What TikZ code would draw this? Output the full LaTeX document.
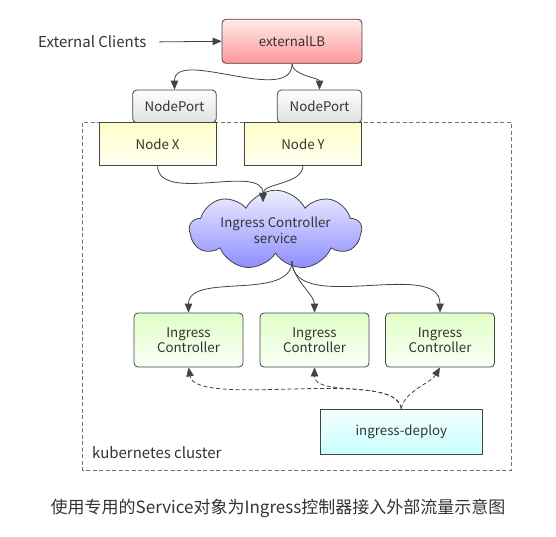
\documentclass[tikz,border=0pt]{standalone}
\usepackage{fontspec}
\setmainfont{Noto Sans CJK SC}
\usetikzlibrary{arrows.meta,shapes.symbols}
\definecolor{txt}{HTML}{333333}
\definecolor{edge}{HTML}{444444}
\tikzset{
  box/.style={draw=edge,line width=0.8pt,text=txt,inner sep=0pt,align=center,
    font=\fontsize{13.3}{15.5}\selectfont},
  rbox/.style={box,rounded corners=4pt},
  arr/.style={draw=edge,line width=0.8pt,-{Triangle[length=9pt,width=7.5pt]}},
  darr/.style={arr,dash pattern=on 4pt off 2.5pt},
  lbl/.style={text=txt,inner sep=0pt,font=\fontsize{15}{17}\selectfont,anchor=west},
}
\begin{document}
\begin{tikzpicture}[x=1pt,y=-1pt]
\useasboundingbox (0,0) rectangle (556,537);
% cluster
\draw[draw=gray!90!black,line width=0.8pt,dash pattern=on 4pt off 2.5pt] (82.5,122.7) rectangle (511.5,470);
\node[lbl] (k8s) at (92,453) {kubernetes cluster};
% top
\node[rbox,top color=red!8,bottom color={rgb,255:red,255;green,150;blue,150},minimum width=140pt,minimum height=44pt] (lb) at (292,41.3) {externalLB};
\node[lbl] (clients) at (38,42) {External Clients};
\node[rbox,top color=white,bottom color=gray!25,minimum width=83.5pt,minimum height=32.7pt] (np1) at (174.5,106.4) {NodePort};
\node[rbox,top color=white,bottom color=gray!25,minimum width=84.4pt,minimum height=32.7pt] (np2) at (319.5,106.4) {NodePort};
\node[box,top color={rgb,255:red,255;green,255;blue,200},bottom color={rgb,255:red,255;green,255;blue,242},minimum width=117pt,minimum height=42.3pt] (nx) at (157.6,143.9) {Node X};
\node[box,top color={rgb,255:red,255;green,255;blue,200},bottom color={rgb,255:red,255;green,255;blue,242},minimum width=117.4pt,minimum height=42.3pt] (ny) at (303,143.9) {Node Y};
% cloud
\node[cloud,draw=edge,line width=0.8pt,cloud puffs=9,cloud puff arc=125,aspect=3.1,
  minimum width=172pt,minimum height=52pt,inner sep=0pt,text=txt,align=center,
  font=\fontsize{13.3}{16}\selectfont,
  top color={rgb,255:red,238;green,238;blue,255},bottom color={rgb,255:red,140;green,140;blue,255}] (cloud) at (275.5,230) {Ingress Controller\\service};
\coordinate (cin) at (263,202);
\coordinate (cout) at (292,261);
% ingress controllers
\foreach \n/\x in {ic1/188.5,ic2/314.5,ic3/440}{
  \node[rbox,top color={rgb,255:red,224;green,255;blue,200},bottom color={rgb,255:red,250;green,255;blue,246},minimum width=109pt,minimum height=54pt] (\n) at (\x,340) {Ingress\\Controller};
}
\node[box,top color={rgb,255:red,245;green,255;blue,255},bottom color={rgb,255:red,200;green,255;blue,255},minimum width=162.7pt,minimum height=45pt] (dep) at (401.3,431.5) {ingress-deploy};
% connectors
\draw[arr,shorten <=13pt] (clients.east) -- (lb.west);
\draw[arr] (lb.south) to[out=-90,in=90,looseness=0.9] (np1.north);
\draw[arr] (lb.south) to[out=-90,in=90,looseness=0.8] (np2.north);
\draw[arr] (nx.south) to[out=-90,in=90,looseness=0.9] (cin);
\draw[arr] (ny.south) to[out=-90,in=90,looseness=0.9] (cin);
\draw[arr] (cout) to[out=-90,in=90,looseness=0.9] (ic1.north);
\draw[arr] (cout) to[out=-90,in=90,looseness=0.8] (ic2.north);
\draw[arr] (cout) to[out=-90,in=90,looseness=0.9] (ic3.north);
\draw[darr] (dep.north) to[out=95,in=-80,looseness=0.5] (ic1.south);
\draw[darr] (dep.north) to[out=100,in=-90,looseness=0.8] (ic2.south);
\draw[darr] (dep.north) to[out=80,in=-120,looseness=0.8] (ic3.south);
% caption
\node[text=txt,inner sep=0pt,font=\fontsize{17}{19}\selectfont] (cap) at (278,508) {使用专用的Service对象为Ingress控制器接入外部流量示意图};
\end{tikzpicture}
\end{document}
